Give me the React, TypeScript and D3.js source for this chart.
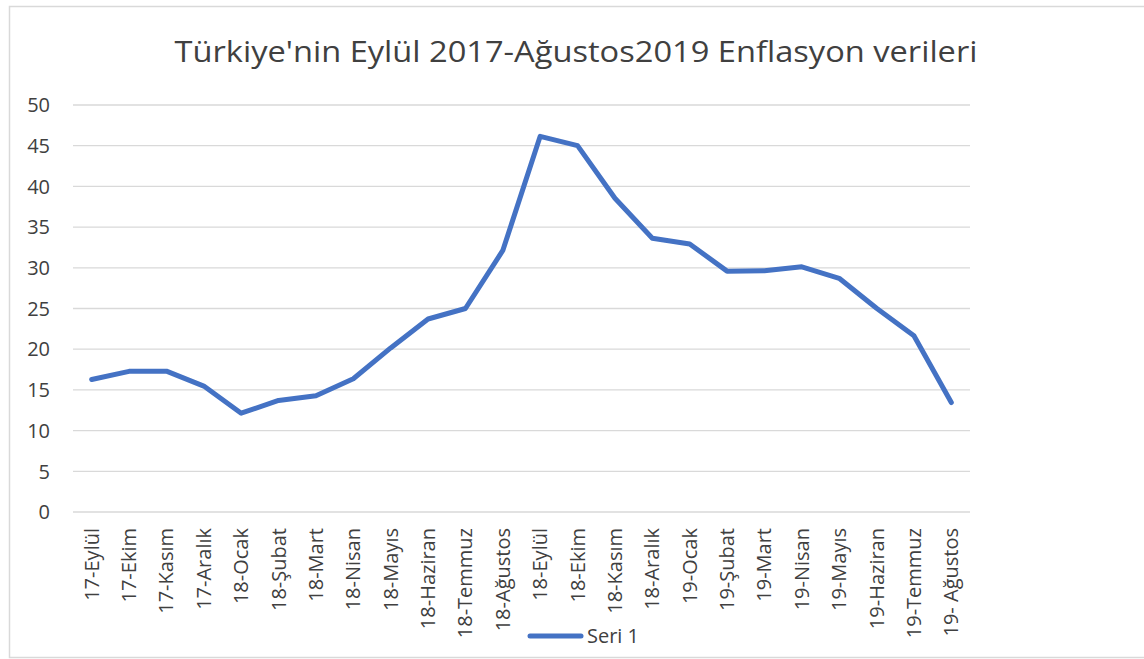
import React from "react";
import * as d3 from "d3";

const title = "Türkiye'nin Eylül 2017-Ağustos2019 Enflasyon verileri";
const categories = [
  "17-Eylül", "17-Ekim", "17-Kasım", "17-Aralık", "18-Ocak", "18-Şubat", "18-Mart", "18-Nisan",
  "18-Mayıs", "18-Haziran", "18-Temmuz", "18-Ağustos", "18-Eylül", "18-Ekim", "18-Kasım", "18-Aralık",
  "19-Ocak", "19-Şubat", "19-Mart", "19-Nisan", "19-Mayıs", "19-Haziran", "19-Temmuz", "19- Ağustos",
];
const seri1 = [
  16.28, 17.28, 17.3, 15.47, 12.14, 13.71, 14.28, 16.37, 20.16, 23.71, 25.0, 32.13,
  46.15, 45.01, 38.54, 33.64, 32.93, 29.59, 29.64, 30.12, 28.71, 25.04, 21.66, 13.45,
];
const yTicks = [0, 5, 10, 15, 20, 25, 30, 35, 40, 45, 50];
const seriesName = "Seri 1";

const FONT = "'Open Sans', 'Noto Sans', sans-serif";
const TEXT = "#404040";

export default function App() {
  const x = d3.scalePoint<string>().domain(categories).range([73, 970]).padding(0.5);
  const y = d3.scaleLinear().domain([0, 50]).range([512, 105]);
  const line = d3
    .line<number>()
    .x((_, i) => x(categories[i]) as number)
    .y((d) => y(d));

  return (
    <svg
      width={1144}
      height={659}
      style={{ position: "absolute", left: 0, top: 0, background: "#fff" }}
    >
      <rect x={9.5} y={6.5} width={1150} height={651} fill="#fff" stroke="#d9d9d9" strokeWidth={1.5} />
      <text
        x={576}
        y={62}
        textAnchor="middle"
        fontFamily={FONT}
        fontSize={29}
        fill="#404040"
        textLength={803}
        lengthAdjust="spacingAndGlyphs"
      >
        {title}
      </text>
      {yTicks.map((t) => (
        <g key={t}>
          <line x1={73} x2={970} y1={y(t)} y2={y(t)} stroke="#d9d9d9" strokeWidth={1.3} />
          <text
            x={50}
            y={y(t)}
            dy="0.36em"
            textAnchor="end"
            fontFamily={FONT}
            fontSize={20}
            fill={TEXT}
          >
            {t}
          </text>
        </g>
      ))}
      {categories.map((c) => (
        <text
          key={c}
          transform={`translate(${(x(c) as number) + 7},528) rotate(-90)`}
          textAnchor="end"
          fontFamily={FONT}
          fontSize={20}
          fill={TEXT}
        >
          {c}
        </text>
      ))}
      <path d={line(seri1) || ""} fill="none" stroke="#4472C4" strokeWidth={5} strokeLinejoin="round" strokeLinecap="round" />
      <line x1={530} x2={581} y1={636} y2={636} stroke="#4472C4" strokeWidth={5} strokeLinecap="round" />
      <text x={587} y={636} dy="0.36em" fontFamily={FONT} fontSize={20} fill={TEXT}>
        {seriesName}
      </text>
    </svg>
  );
}
